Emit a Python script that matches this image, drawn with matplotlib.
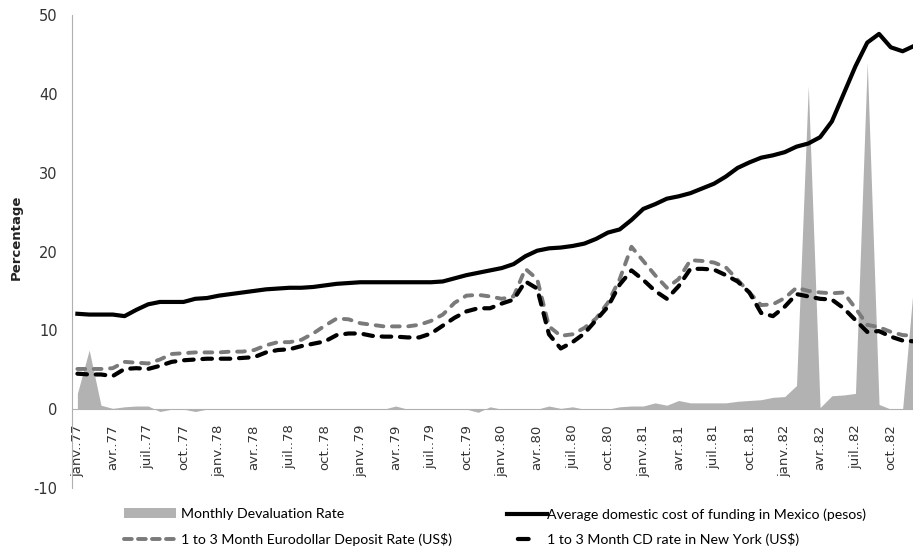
import matplotlib
matplotlib.use("Agg")
import matplotlib.pyplot as plt
from matplotlib.lines import Line2D
from matplotlib.patches import Patch
import numpy as np

plt.rcParams["axes.unicode_minus"] = False

# ---------------- data (monthly, Jan 1977 - Dec 1982) ----------------
devaluation = [2.0, 7.5, 0.5, 0.1, 0.3, 0.4, 0.4, -0.3, 0.0, 0.0, -0.3, 0.0,
               0.0, 0.0, 0.0, 0.0, 0.0, 0.0, 0.0, 0.0, 0.0, 0.0, 0.0, 0.0,
               0.0, 0.0, 0.0, 0.4, 0.0, 0.0, 0.0, 0.0, 0.0, 0.0, -0.4, 0.3,
               0.0, 0.0, 0.0, 0.0, 0.4, 0.1, 0.3, 0.0, 0.0, 0.0, 0.3, 0.4,
               0.4, 0.8, 0.5, 1.1, 0.8, 0.8, 0.8, 0.8, 1.0, 1.1, 1.2, 1.5,
               1.6, 3.0, 41.0, 0.2, 1.7, 1.8, 2.0, 44.0, 0.6, 0.0, 0.0, 17.0]

domestic = [12.1, 12.0, 12.0, 12.0, 11.8, 12.6, 13.3, 13.6, 13.6, 13.6, 14.0, 14.1,
            14.4, 14.6, 14.8, 15.0, 15.2, 15.3, 15.4, 15.4, 15.5, 15.7, 15.9, 16.0,
            16.1, 16.1, 16.1, 16.1, 16.1, 16.1, 16.1, 16.2, 16.6, 17.0, 17.3, 17.6,
            17.9, 18.4, 19.4, 20.1, 20.4, 20.5, 20.7, 21.0, 21.6, 22.4, 22.8, 24.0,
            25.4, 26.0, 26.7, 27.0, 27.4, 28.0, 28.6, 29.5, 30.6, 31.3, 31.9, 32.2,
            32.6, 33.3, 33.7, 34.5, 36.5, 40.0, 43.5, 46.5, 47.6, 45.9, 45.4, 46.1]

eurodollar = [5.1, 5.1, 5.1, 5.2, 6.0, 5.9, 5.8, 6.3, 7.0, 7.1, 7.2, 7.2,
              7.2, 7.3, 7.3, 7.5, 8.1, 8.5, 8.5, 8.8, 9.6, 10.6, 11.5, 11.4,
              10.9, 10.7, 10.5, 10.5, 10.5, 10.7, 11.2, 12.0, 13.5, 14.4, 14.5, 14.3,
              14.0, 14.3, 17.8, 16.5, 10.5, 9.3, 9.5, 10.3, 11.5, 13.5, 16.5, 20.6,
              18.8, 17.0, 15.4, 16.5, 18.9, 18.8, 18.6, 18.0, 16.4, 14.8, 13.2, 13.3,
              14.1, 15.4, 15.0, 14.8, 14.7, 14.8, 12.8, 10.7, 10.4, 9.8, 9.4, 9.3]

cd_newyork = [4.5, 4.4, 4.4, 4.2, 5.1, 5.2, 5.1, 5.5, 6.0, 6.2, 6.3, 6.4,
              6.4, 6.4, 6.5, 6.6, 7.2, 7.5, 7.6, 8.0, 8.3, 8.6, 9.4, 9.6,
              9.6, 9.3, 9.2, 9.2, 9.1, 9.1, 9.6, 10.6, 11.6, 12.4, 12.8, 12.8,
              13.4, 13.9, 16.2, 15.3, 9.5, 7.7, 8.5, 9.6, 11.3, 13.0, 15.8, 17.6,
              16.4, 15.0, 14.0, 15.6, 17.8, 17.8, 17.7, 17.0, 16.2, 14.8, 12.2, 11.8,
              13.0, 14.6, 14.3, 14.0, 13.9, 12.8, 11.3, 9.8, 9.9, 9.2, 8.7, 8.6]

tick_labels = ["janv..77", "avr..77", "juil..77", "oct..77",
               "janv..78", "avr..78", "juil..78", "oct..78",
               "janv..79", "avr..79", "juil..79", "oct..79",
               "janv..80", "avr..80", "juil..80", "oct..80",
               "janv..81", "avr..81", "juil..81", "oct..81",
               "janv..82", "avr..82", "juil..82", "oct..82"]

series_names = ["Monthly Devaluation Rate",
                "1 to 3 Month Eurodollar Deposit Rate (US$)",
                "Average domestic cost of funding in Mexico (pesos)",
                "1 to 3 Month CD rate in New York (US$)"]

# ---------------- figure ----------------
W, H = 913, 555
fig = plt.figure(figsize=(W / 100, H / 100), dpi=100)
left_px, right_px = 71.5, 920.3
top_px, bot_px = 15, 488
ax = fig.add_axes([left_px / W, 1 - bot_px / H,
                   (right_px - left_px) / W, (bot_px - top_px) / H])

x = np.arange(len(domestic))
area_col = "#b2b2b2"
grey_col = "#7a7a7a"

ax.fill_between(x, 0, devaluation, color=area_col, linewidth=0, zorder=1)
ax.plot(x, domestic, color="black", lw=3.0, zorder=4, solid_joinstyle="round")
ax.plot(x, eurodollar, color=grey_col, lw=2.8, dashes=(2.0, 2.2),
        dash_capstyle="round", zorder=3)
ax.plot(x, cd_newyork, color="black", lw=3.0, dashes=(2.3, 2.1),
        dash_capstyle="round", zorder=3)

ax.set_xlim(-0.5, len(domestic) - 0.5)
ax.set_ylim(-10, 50)
ax.set_yticks(np.arange(-10, 51, 10))

ax.spines["top"].set_visible(False)
ax.spines["right"].set_visible(False)
ax.spines["left"].set_color("#b0b0b0")
ax.spines["bottom"].set_color("#b0b0b0")
ax.spines["bottom"].set_position(("data", 0))

ax.set_xticks(np.arange(0, len(domestic), 3))
ax.set_xticklabels(tick_labels, rotation=90, fontsize=9.5, color="#333333")
ax.tick_params(axis="x", length=0, pad=11)
ax.tick_params(axis="y", length=0, pad=10, labelsize=10.5, labelcolor="#333333")

ax.set_ylabel("Percentage", fontsize=9.5, fontweight="bold", color="#222222")
ax.yaxis.set_label_coords(-0.058, 0.53)

# ---------------- legend ----------------
leg_font = {"family": ["Lato", "DejaVu Sans"], "size": 10.2}
h_dev = Patch(facecolor=area_col, edgecolor="none")
h_euro = Line2D([], [], color=grey_col, lw=2.8, dashes=(2.0, 1.6), dash_capstyle="round")
h_dom = Line2D([], [], color="black", lw=3.0)
h_cd = Line2D([], [], color="black", lw=3.0, linestyle=(10.0, (2.6, 10.0)),
              dash_capstyle="round")

fig.legend(handles=[h_dev, h_euro], labels=series_names[:2],
           loc="upper left", bbox_to_anchor=(124 / W, 1 - 508 / H),
           frameon=False, prop=leg_font, handlelength=3.7, handletextpad=0.35,
           labelspacing=0.9, borderpad=0, borderaxespad=0)
fig.legend(handles=[h_dom, h_cd], labels=series_names[2:],
           loc="upper left", bbox_to_anchor=(507 / W, 1 - 508 / H),
           frameon=False, prop=leg_font, handlelength=2.8, handletextpad=0.05,
           labelspacing=0.9, borderpad=0, borderaxespad=0)

fig.savefig("out.png", dpi=100)
